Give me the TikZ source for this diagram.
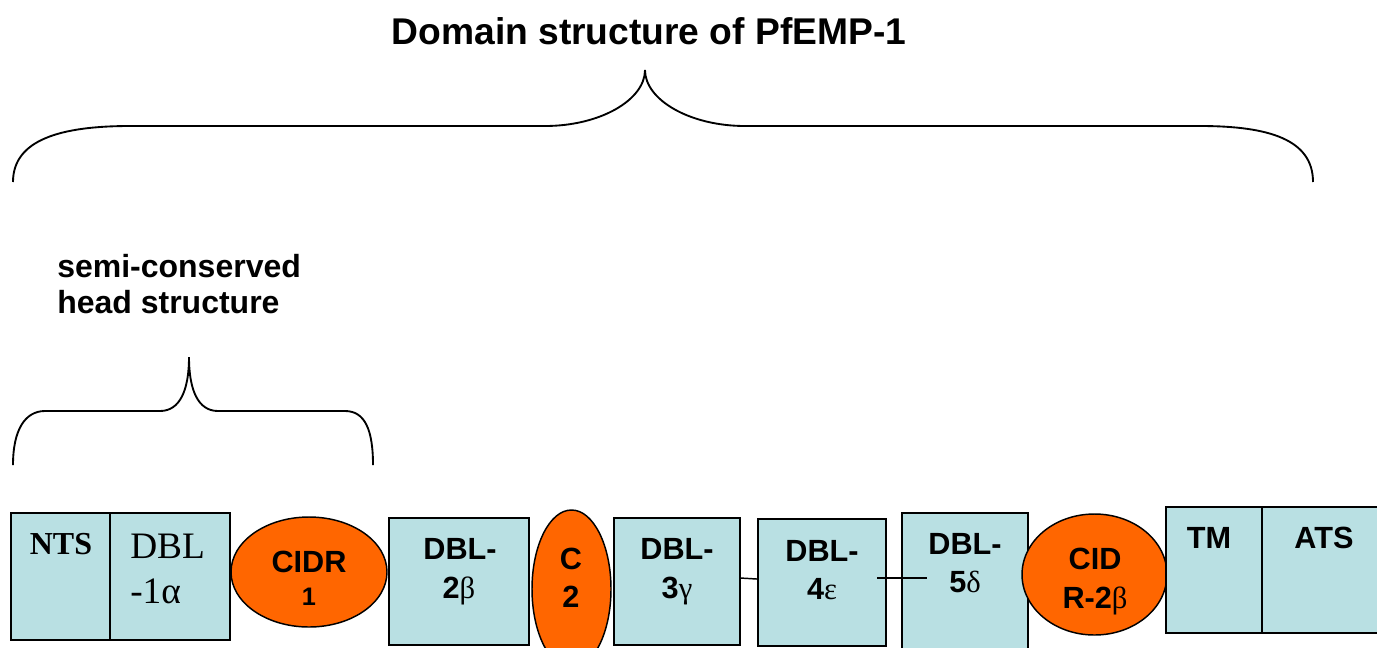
\documentclass[tikz,border=0pt]{standalone}
\usepackage{fontspec}
\setmainfont{Liberation Sans}
\newfontfamily\seriffont{Liberation Serif}
\usetikzlibrary{shapes.geometric}
\definecolor{boxcol}{RGB}{185,224,227}
\definecolor{orangecol}{RGB}{255,102,0}
\tikzset{
  dom/.style={draw=black, line width=1.1pt, fill=boxcol, rectangle, inner sep=0pt},
  ell/.style={draw=black, line width=1.1pt, fill=orangecol, ellipse, inner sep=0pt},
  brace/.style={draw=black, line width=1.4pt},
  conn/.style={draw=black, line width=1.1pt},
  lab/.style={font=\bfseries\fontsize{23}{27}\selectfont, anchor=base, inner sep=0pt},
  smalllab/.style={font=\bfseries\fontsize{19}{22}\selectfont, anchor=base, inner sep=0pt},
}
\newcommand{\gk}[1]{{\seriffont\mdseries #1}}
\begin{document}
\begin{tikzpicture}[x=0.75pt,y=-0.75pt]
\useasboundingbox (0,0) rectangle (1377,647);
% title
\node[font=\bfseries\fontsize{27.9}{32}\selectfont, anchor=base, inner sep=0pt] (title) at (649,44) {Domain structure of PfEMP-1};
% big brace
\draw[brace] (13,182) .. controls (13,140) and (60,126) .. (130,126) -- (545,126)
  .. controls (600,126) and (645,100) .. (645,70)
  .. controls (645,100) and (690,126) .. (745,126) -- (1200,126)
  .. controls (1270,126) and (1313,140) .. (1313,182);
% subtitle
\node[font=\bfseries\fontsize{24}{27}\selectfont, anchor=base west, align=left, inner sep=0pt] (head1) at (57,277) {semi-conserved};
\node[font=\bfseries\fontsize{24}{27}\selectfont, anchor=base west, align=left, inner sep=0pt] (head2) at (57,313) {head structure};
% small brace
\draw[brace] (13,465) .. controls (13,430) and (25,411) .. (45,411) -- (160,411)
  .. controls (180,411) and (189,390) .. (189,357)
  .. controls (189,390) and (198,411) .. (218,411) -- (345,411)
  .. controls (365,411) and (373,430) .. (373,465);
% domains
\node[dom, minimum width=99*0.75pt, minimum height=127*0.75pt] (nts) at (60.5,576.5) {};
\node[dom, minimum width=120*0.75pt, minimum height=127*0.75pt] (dbl1) at (170,576.5) {};
\node[ell, minimum width=156*0.75pt, minimum height=110*0.75pt] (cidr1) at (309,572) {};
\node[dom, minimum width=140*0.75pt, minimum height=127*0.75pt] (dbl2) at (459,581.5) {};
\node[ell, minimum width=79*0.75pt, minimum height=158*0.75pt] (c2) at (571.5,589) {};
\node[dom, minimum width=126*0.75pt, minimum height=127*0.75pt] (dbl3) at (677,581.5) {};
\node[dom, minimum width=128*0.75pt, minimum height=127*0.75pt] (dbl4) at (822,582.5) {};
\node[dom, minimum width=126*0.75pt, minimum height=137*0.75pt] (dbl5) at (965,581.5) {};
\node[ell, minimum width=145*0.75pt, minimum height=121*0.75pt] (cidr2) at (1094.5,574.5) {};
\node[dom, minimum width=96*0.75pt, minimum height=126*0.75pt] (tm) at (1214,570) {};
\node[dom, minimum width=118*0.75pt, minimum height=126*0.75pt] (ats) at (1321,570) {};
% connectors
\draw[conn] ([yshift=2.6pt]dbl3.east) -- ([yshift=2.6pt]dbl4.west);
\coordinate (la) at (877,578);
\coordinate (lb) at (927,578);
\draw[conn] (la) -- (lb);
% labels
\node[font=\seriffont\bfseries\fontsize{24}{28}\selectfont, anchor=base, inner sep=0pt] (tnts) at (61,554) {NTS};
\node[font=\seriffont\fontsize{28}{32}\selectfont, anchor=base west, inner sep=0pt] (tdbl1a) at (130,558) {DBL};
\node[font=\seriffont\fontsize{28}{32}\selectfont, anchor=base west, inner sep=0pt] (tdbl1b) at (130,603) {-1α};
\node[lab] (tcidr1a) at (309,572) {CIDR};
\node[smalllab] (tcidr1b) at (309,605) {1};
\node[lab] (tdbl2a) at (460,559) {DBL-};
\node[lab] (tdbl2b) at (459,598) {2\gk{β}};
\node[lab] (tc2a) at (571,569) {C};
\node[lab] (tc2b) at (571,607) {2};
\node[lab] (tdbl3a) at (677,559) {DBL-};
\node[lab] (tdbl3b) at (677,598) {3\gk{γ}};
\node[lab] (tdbl4a) at (822,561) {DBL-};
\node[lab] (tdbl4b) at (822,599) {4\gk{ε}};
\node[lab] (tdbl5a) at (965,554) {DBL-};
\node[lab] (tdbl5b) at (965,592) {5\gk{δ}};
\node[lab] (tcidr2a) at (1095,569) {CID};
\node[lab] (tcidr2b) at (1095,608) {R-2\gk{β}};
\node[lab] (ttm) at (1209,548) {TM};
\node[lab] (tats) at (1324,548) {ATS};
\end{tikzpicture}
\end{document}
